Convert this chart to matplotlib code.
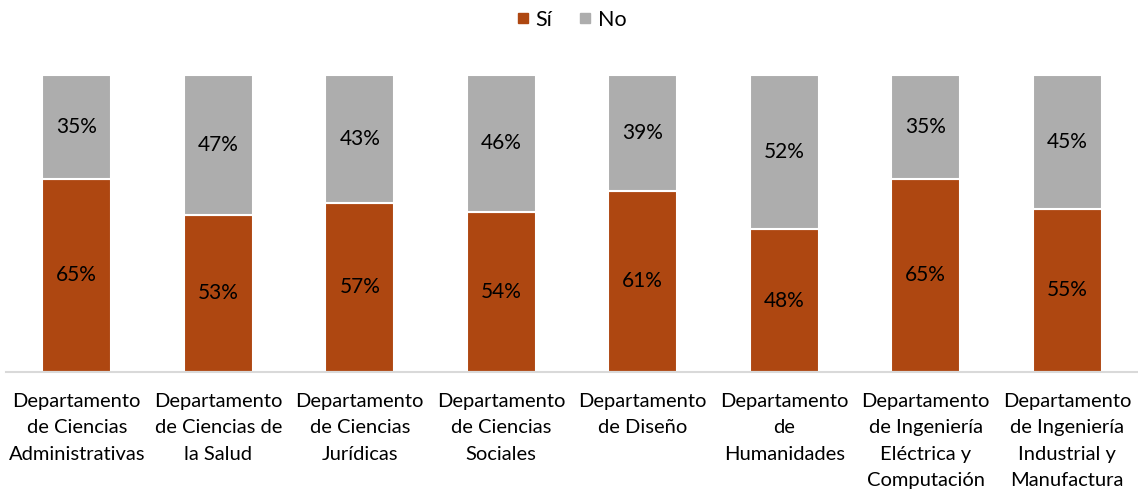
import matplotlib
matplotlib.use("Agg")
import matplotlib.pyplot as plt
from matplotlib.lines import Line2D

categories = [
    "Departamento\nde Ciencias\nAdministrativas",
    "Departamento\nde Ciencias de\nla Salud",
    "Departamento\nde Ciencias\nJurídicas",
    "Departamento\nde Ciencias\nSociales",
    "Departamento\nde Diseño",
    "Departamento\nde\nHumanidades",
    "Departamento\nde Ingeniería\nEléctrica y\nComputación",
    "Departamento\nde Ingeniería\nIndustrial y\nManufactura",
]
si = [65, 53, 57, 54, 61, 48, 65, 55]
no = [35, 47, 43, 46, 39, 52, 35, 45]

c_si = "#AE4711"
c_no = "#ADADAD"
font = "Lato"
fs = 14.5

fig = plt.figure(figsize=(11.38, 4.91), dpi=100)
ax = fig.add_axes([6 / 1138, 119 / 491, 1132 / 1138, 297 / 491])

x = list(range(len(categories)))
w = 0.49
ax.bar(x, si, width=w, color=c_si, edgecolor="white", linewidth=1.5)
ax.bar(x, no, width=w, bottom=si, color=c_no, edgecolor="white", linewidth=1.5)

for i in x:
    ax.text(i, si[i] / 2, f"{si[i]}%", ha="center", va="center", fontsize=15, family=font, color="#000000")
    ax.text(i, si[i] + no[i] / 2, f"{no[i]}%", ha="center", va="center", fontsize=15, family=font, color="#000000")

ax.set_xlim(-0.5, len(categories) - 0.5)
ax.set_ylim(0, 100)
ax.set_yticks([])
ax.set_xticks(x)
ax.set_xticklabels(categories, fontsize=fs, family=font, linespacing=1.68, va="top")
ax.tick_params(axis="x", length=0, pad=15)
for s in ["top", "right", "left"]:
    ax.spines[s].set_visible(False)
ax.spines["bottom"].set_color("#D9D9D9")
ax.spines["bottom"].set_linewidth(1.5)

handles = [
    Line2D([], [], marker="s", linestyle="none", color=c_si, markersize=7),
    Line2D([], [], marker="s", linestyle="none", color=c_no, markersize=7),
]
fig.legend(handles, ["Sí", "No"], loc="center", bbox_to_anchor=(0.5, 1 - 20 / 491), ncol=2,
           frameon=False, prop={"family": font, "size": 15.5}, handletextpad=0.1, columnspacing=1.0,
           handlelength=1.0)

fig.savefig("out.png", dpi=100)
